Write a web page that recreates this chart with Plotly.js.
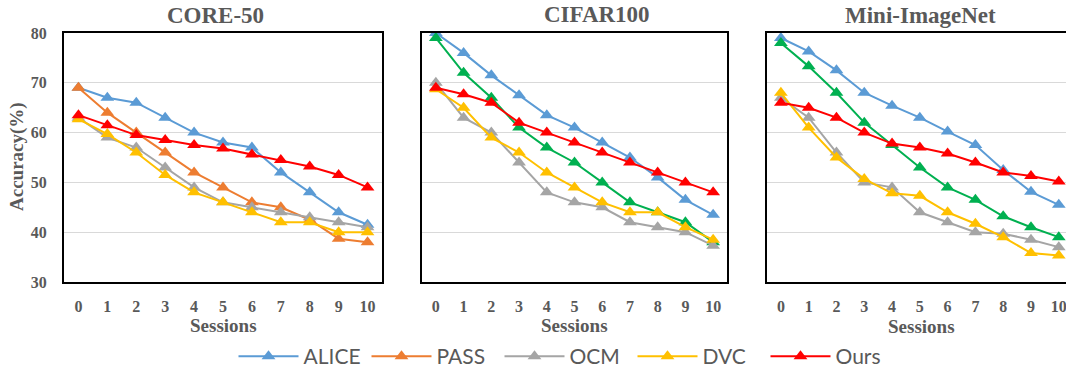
<!DOCTYPE html>
<html>
<head>
<meta charset="utf-8">
<script src="https://cdn.plot.ly/plotly-3.0.1.min.js"></script>
<style>html,body{margin:0;padding:0;background:#fff;}#chart{width:1066px;height:377px;}</style>
</head>
<body>
<div id="chart"></div>
<script>
const sessions = [0,1,2,3,4,5,6,7,8,9,10];
const tickLabels = ["0","1","2","3","4","5","6","7","8","9","10"];
const panelTitles = ["CORE-50","CIFAR100","Mini-ImageNet"];

// CORE-50
const core_ALICE = [69,67,66,63,60,58,57,52,48,44,41.5];
const core_PASS  = [69,64,60,56,52,49,46,45,42.5,38.7,38];
const core_OCM   = [63,59,57,53,49,46,45,44,43,42,41];
const core_DVC   = [62.7,59.7,56,51.5,48,46,44,42,42,40,40];
const core_Ours  = [63.5,61.5,59.5,58.5,57.5,56.8,55.6,54.5,53.2,51.5,49];

// CIFAR100
const cifar_ALICE = [80,76,71.5,67.5,63.5,61,58,55,51,46.5,43.5];
const cifar_Green = [79,72,67,61,57,54,50,46,44,42,38];
const cifar_OCM   = [70,63,60,54,48,46,45,42,41,40,37.3];
const cifar_DVC   = [68.7,65,59,56,52,49,46,44,44,41,38.5];
const cifar_Ours  = [69,67.7,66,62,60,58,56,54,52,50,48];

// Mini-ImageNet
const mini_ALICE = [79,76.3,72.5,68,65.4,63,60.2,57.5,52.5,48.1,45.5];
const mini_Green = [78,73.3,68,62,57.5,53,49,46.5,43.2,41,39];
const mini_OCM   = [67,63,56,50,49,44,42,40,39.7,38.5,37];
const mini_DVC   = [68,61,55,50.7,47.8,47.3,44,41.7,39,35.8,35.3];
const mini_Ours  = [66,65,63,60,57.8,57,55.8,54,52,51.3,50.2];

const colors = {ALICE:"#5B9BD5", PASS:"#ED7D31", OCM:"#A5A5A5", DVC:"#FFC000", Ours:"#FF0000", Green:"#00B050"};
const W = 1066, H = 377;
const textGray = "#595959";

function tr(name, y, ax, color, legend){
  return {x: sessions, y: y, type: "scatter", mode: "lines+markers", name: name,
    xaxis: ax[0], yaxis: ax[1], showlegend: legend, legendgroup: name,
    line: {color: color, width: 2},
    marker: {symbol: "triangle-up", size: 12, color: color}};
}
const data = [
  tr("ALICE", core_ALICE, ["x","y"], colors.ALICE, true),
  tr("PASS", core_PASS, ["x","y"], colors.PASS, true),
  tr("OCM", core_OCM, ["x","y"], colors.OCM, true),
  tr("DVC", core_DVC, ["x","y"], colors.DVC, true),
  tr("Ours", core_Ours, ["x","y"], colors.Ours, true),

  tr("ALICE", cifar_ALICE, ["x2","y2"], colors.ALICE, false),
  tr("Other", cifar_Green, ["x2","y2"], colors.Green, false),
  tr("OCM", cifar_OCM, ["x2","y2"], colors.OCM, false),
  tr("DVC", cifar_DVC, ["x2","y2"], colors.DVC, false),
  tr("Ours", cifar_Ours, ["x2","y2"], colors.Ours, false),

  tr("ALICE", mini_ALICE, ["x3","y3"], colors.ALICE, false),
  tr("Other", mini_Green, ["x3","y3"], colors.Green, false),
  tr("OCM", mini_OCM, ["x3","y3"], colors.OCM, false),
  tr("DVC", mini_DVC, ["x3","y3"], colors.DVC, false),
  tr("Ours", mini_Ours, ["x3","y3"], colors.Ours, false)
];

const tickFont = {family: "Liberation Serif, Times New Roman, serif", size: 16, color: textGray, weight: "bold"};
const yDom = [1 - 282/H, 1 - 33/H];

function xax(dom, range, mirror){
  return {domain: dom, range: range, tickmode: "array", tickvals: sessions, ticktext: tickLabels,
    showgrid: false, zeroline: false, showline: true, linecolor: "#000", linewidth: 2, mirror: mirror,
    ticks: "", tickfont: tickFont, ticklabelstandoff: 9, ticklabeloverflow: "allow", fixedrange: true};
}
function yax(anchor, showLabels, mirror){
  return {anchor: anchor, domain: yDom, range: [30, 80], tickvals: [30,40,50,60,70,80],
    showgrid: true, gridcolor: "#D9D9D9", gridwidth: 1, zeroline: false,
    showline: true, linecolor: "#000", linewidth: 2, mirror: mirror,
    ticks: "", showticklabels: showLabels, tickfont: tickFont, ticklabelstandoff: 12, fixedrange: true};
}

const titleFont = {family: "Liberation Serif, Times New Roman, serif", size: 23, color: textGray, weight: "bold"};
const axTitleFont = {family: "Liberation Serif, Times New Roman, serif", size: 19, color: textGray, weight: "bold"};
function ann(text, px, py, font, angle){
  return {text: text, x: px / W, y: 1 - py / H, xref: "paper", yref: "paper",
    xanchor: "center", yanchor: "middle", showarrow: false, font: font, textangle: angle || 0};
}

const layout = {
  width: W, height: H,
  margin: {l: 0, r: 0, t: 0, b: 0},
  paper_bgcolor: "#fff", plot_bgcolor: "#fff",
  xaxis: Object.assign(xax([64/W, 382/W], [-0.5, 10.5], true), {anchor: "y"}),
  yaxis: yax("x", true, true),
  xaxis2: Object.assign(xax([422/W, 727/W], [-0.5, 10.5], true), {anchor: "y2"}),
  yaxis2: yax("x2", false, true),
  xaxis3: Object.assign(xax([767/W, 1], [-0.5, 10.26], true), {anchor: "y3"}),
  yaxis3: yax("x3", false, false),
  showlegend: true,
  legend: {orientation: "h", x: 566/W, y: 0, xanchor: "center", yanchor: "bottom",
    font: {family: "Lato, Carlito, sans-serif", size: 21, color: textGray},
    itemwidth: 60, entrywidth: 58, entrywidthmode: "pixels", tracegroupgap: 0, bgcolor: "rgba(0,0,0,0)"},
  annotations: [
    ann(panelTitles[0], 215, 16, titleFont),
    ann(panelTitles[1], 597, 15, titleFont),
    ann(panelTitles[2], 920, 16, titleFont),
    ann("Sessions", 223, 325, axTitleFont),
    ann("Sessions", 574, 325, axTitleFont),
    ann("Sessions", 921, 326, axTitleFont),
    ann("Accuracy(%)", 17, 157, axTitleFont, -90)
  ]
};

Plotly.newPlot("chart", data, layout, {staticPlot: true, displayModeBar: false});
</script>
</body>
</html>
